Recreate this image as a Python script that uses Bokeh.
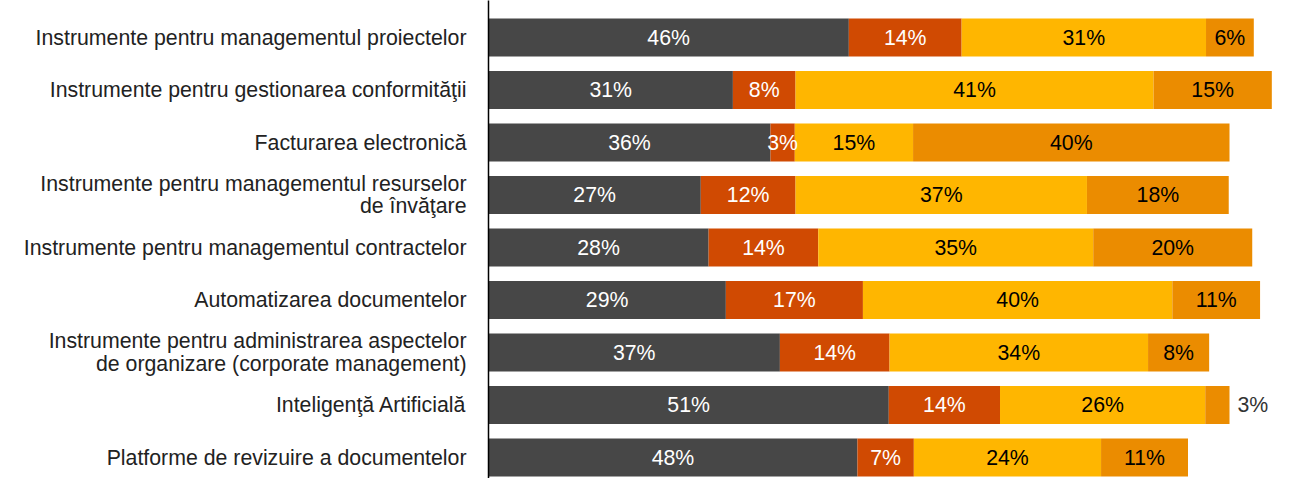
import numpy as np
from bokeh.plotting import figure
from bokeh.models import ColumnDataSource, Range1d, FixedTicker
from bokeh.embed import file_html
from bokeh.resources import INLINE
from bokeh.core.properties import value

categories = [
    "Instrumente pentru managementul proiectelor",
    "Instrumente pentru gestionarea conformităţii",
    "Facturarea electronică",
    "Instrumente pentru managementul resurselor\nde învăţare",
    "Instrumente pentru managementul contractelor",
    "Automatizarea documentelor",
    "Instrumente pentru administrarea aspectelor\nde organizare (corporate management)",
    "Inteligenţă Artificială",
    "Platforme de revizuire a documentelor",
]

# bar lengths (% of respondents) as drawn
dark = [46.0, 31.2, 36.0, 27.1, 28.1, 30.3, 37.2, 51.1, 47.1]
red = [14.4, 8.0, 3.1, 12.1, 14.0, 17.5, 14.0, 14.2, 7.2]
yellow = [31.2, 45.7, 15.1, 37.2, 35.1, 39.5, 33.0, 26.2, 23.9]
orange = [6.1, 15.1, 40.4, 18.1, 20.3, 11.2, 7.8, 3.1, 11.1]

# printed labels
label_dark = [46, 31, 36, 27, 28, 29, 37, 51, 48]
label_red = [14, 8, 3, 12, 14, 17, 14, 14, 7]
label_yellow = [31, 41, 15, 37, 35, 40, 34, 26, 24]
label_orange = [6, 15, 40, 18, 20, 11, 8, 3, 11]

colors = ["#474747", "#d04a02", "#ffb600", "#eb8c00"]
label_colors = ["#ffffff", "#ffffff", "#000000", "#000000"]

FONT = "Liberation Sans"
FSIZE = "21.3px"

n = len(categories)
ys = list(range(n))
names = ["dark", "red", "yellow", "orange"]
vals = [dark, red, yellow, orange]
labs = [label_dark, label_red, label_yellow, label_orange]

source = ColumnDataSource(dict(y=ys, dark=dark, red=red, yellow=yellow, orange=orange))

p = figure(width=1305, height=478, output_backend="svg", toolbar_location=None,
           x_range=Range1d(0, 104.3), y_range=Range1d(8.4, -0.705),
           x_axis_location=None, min_border_left=488, min_border_right=0,
           min_border_top=0, min_border_bottom=0)
p.outline_line_color = None
p.grid.visible = False
p.background_fill_color = "white"

p.hbar_stack(names, y="y", height=0.724, fill_color=colors, line_color=None, source=source)

# value labels
arr = np.array(vals)
cum = np.cumsum(arr, axis=0)
left = cum - arr
in_x, in_y, in_t, in_c = [], [], [], []
out_x, out_y, out_t = [], [], []
for s in range(4):
    for i in range(n):
        w = arr[s, i]
        if s == 3 and w < 4:
            out_x.append(float(cum[s, i]))
            out_y.append(i)
            out_t.append(f"{labs[s][i]}%")
        else:
            in_x.append(float(left[s, i] + w / 2))
            in_y.append(i)
            in_t.append(f"{labs[s][i]}%")
            in_c.append(label_colors[s])

p.text(x=in_x, y=in_y, text=in_t, text_color=in_c, text_align="center",
       text_baseline="middle", text_font=value(FONT), text_font_size=FSIZE)
p.text(x=out_x, y=out_y, text=out_t, text_color="#333333", text_align="left",
       text_baseline="middle", x_offset=8, text_font=value(FONT), text_font_size=FSIZE)

ax = p.yaxis[0]
ax.ticker = FixedTicker(ticks=ys)
ax.major_label_overrides = {i: c for i, c in enumerate(categories)}
ax.major_tick_line_color = None
ax.minor_tick_line_color = None
ax.major_tick_out = 0
ax.minor_tick_out = 0
ax.major_tick_in = 0
ax.minor_tick_in = 0
ax.axis_line_color = "#000000"
ax.axis_line_width = 1.5
ax.major_label_standoff = 22
ax.major_label_text_font = FONT
ax.major_label_text_font_size = FSIZE
ax.major_label_text_line_height = 0.95
ax.major_label_text_color = "#222222"

open("out.html", "w").write(file_html(p, INLINE))
